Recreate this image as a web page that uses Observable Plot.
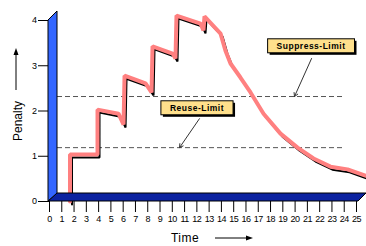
<!DOCTYPE html>
<html><head><meta charset="utf-8">
<script src="https://cdn.jsdelivr.net/npm/d3@7"></script>
<script src="https://cdn.jsdelivr.net/npm/@observablehq/plot@0.6"></script>
<style>
html,body{margin:0;padding:0;background:#fff;}
#chart{width:366px;height:246px;}
</style></head><body><div id="chart"></div>
<script>
// Data
const time =    [1.67,1.67,3.91,3.91,5.62,6.03,6.11,7.82,8.31,8.39,10.02,10.26,10.34,12.30,12.54,12.62,13.93,14.33,14.74,15.55,16.37,17.43,18.81,20.2,21.5,22.88,24.27,25.73];
const penalty = [0,1.04,1.04,2.03,1.94,1.70,2.78,2.61,2.41,3.43,3.27,3.16,4.11,3.93,3.78,4.09,3.71,3.33,3.05,2.74,2.41,1.94,1.50,1.19,0.95,0.77,0.71,0.57];
const xTicks = [0,1,2,3,4,5,6,7,8,9,10,11,12,13,14,15,16,17,18,19,20,21,22,23,24,25];
const yTicks = [0,1,2,3,4];
const limitNames = ["Reuse-Limit","Suppress-Limit"];
const limitValues = [1.19, 2.32];
const limitEnd = 23.9;
const labelX = [12.05, 21.34];
const labelY = [2.06, 3.43];
const arrowFromX = [12.21, 21.34];
const arrowFromY = [1.83, 3.16];
const arrowToX = [10.59, 19.95];

const pts = time.map((t,i)=>({t, p: penalty[i]}));
const arrows = limitValues.map((v,i)=>({x1:arrowFromX[i], y1:arrowFromY[i], x2:arrowToX[i], y2:v}));
const tickFont = '"Liberation Sans",Arial,sans-serif';

const plot = Plot.plot({
  width:366, height:246,
  marginLeft:49, marginRight:10, marginTop:20, marginBottom:45,
  x:{domain:[0,25], ticks:xTicks, tickSize:11, tickPadding:3, tickFormat:d=>String(d), label:null},
  y:{domain:[0,4], ticks:yTicks, tickSize:11, tickPadding:2, tickFormat:d=>String(d), label:null},
  style:{fontFamily:tickFont, fontSize:"9px", letterSpacing:"-0.5px", color:"#000", background:"transparent", overflow:"visible"},
  marks:[
    Plot.ruleY(limitValues, {x1:0, x2:limitEnd, stroke:"#555", strokeWidth:1, strokeDasharray:"5,3"}),
    Plot.line(pts, {x:"t", y:"p", stroke:"#000", strokeWidth:2, dx:2, dy:3, strokeLinejoin:"miter"}),
    Plot.line(pts, {x:"t", y:"p", stroke:"#ff8080", strokeWidth:4, strokeLinejoin:"miter"}),
    Plot.arrow(arrows, {x1:"x1", y1:"y1", x2:"x2", y2:"y2", stroke:"#333", strokeWidth:1, headLength:6})
  ]
});
document.getElementById("chart").appendChild(plot);

const sx = plot.scale("x").apply, sy = plot.scale("y").apply;
const svg = d3.select(plot);
const x0 = sx(0), y0 = sy(0), yTop = sy(4), x25 = sx(25);
const g = svg.append("g");
// floor
g.append("polygon")
  .attr("points", [[x0-1,y0],[x0+8,y0-8],[x25+10,y0-8],[x25+2,y0]].map(p=>p.join(",")).join(" "))
  .attr("fill","#0b22a0").attr("stroke","#000").attr("stroke-width",1);
// wall
g.append("polygon")
  .attr("points", [[x0-1,yTop],[x0+8,yTop-9],[x0+8,y0-8],[x0-1,y0]].map(p=>p.join(",")).join(" "))
  .attr("fill","#3366ff").attr("stroke","#000").attr("stroke-width",1);

// limit labels
limitNames.forEach((name,i)=>{
  const cx = sx(labelX[i]), cy = sy(labelY[i]);
  const lg = svg.append("g");
  const t = lg.append("text").attr("x",cx).attr("y",cy+3)
    .attr("text-anchor","middle").attr("font-family",'"Liberation Sans",Arial,sans-serif')
    .attr("font-weight","bold").attr("font-size","8.5px").attr("letter-spacing","0.5px")
    .attr("fill","#000").text(name);
  const bb = t.node().getBBox();
  const w = bb.width + 18, h = 14;
  lg.insert("rect","text").attr("x",cx-w/2+2).attr("y",cy-h/2+2).attr("width",w).attr("height",h).attr("fill","#000");
  lg.insert("rect","text").attr("x",cx-w/2).attr("y",cy-h/2).attr("width",w).attr("height",h)
    .attr("fill","#ffe08c").attr("stroke","#000").attr("stroke-width",1);
});

// axis titles
const tf = '"Liberation Sans",Arial,sans-serif';
svg.append("text").attr("transform","translate(22,121) rotate(-90)").attr("text-anchor","middle")
  .attr("font-family",tf).attr("font-size","12px").attr("letter-spacing","0").attr("fill","#000").text("Penalty");
svg.append("line").attr("x1",16).attr("y1",90).attr("x2",16).attr("y2",54).attr("stroke","#000").attr("stroke-width",1);
svg.append("path").attr("d","M16,48 L13.5,55 L18.5,55 Z").attr("fill","#000");
svg.append("text").attr("x",185).attr("y",242).attr("font-family",tf).attr("font-size","12px").attr("letter-spacing","0.5px").attr("fill","#000").text("Time");
svg.append("line").attr("x1",215).attr("y1",238).attr("x2",247).attr("y2",238).attr("stroke","#000").attr("stroke-width",1);
svg.append("path").attr("d","M253,238 L246,235.5 L246,240.5 Z").attr("fill","#000");
</script></body></html>
